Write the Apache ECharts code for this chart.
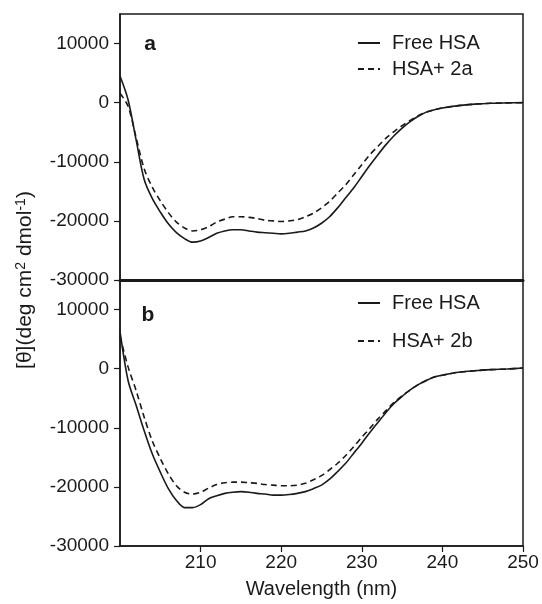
<!DOCTYPE html>
<html>
<head>
<meta charset="utf-8">
<script src="https://cdn.jsdelivr.net/npm/echarts@6/dist/echarts.min.js"></script>
<style>
  html, body { margin: 0; padding: 0; background: #fff; }
  #cd-chart { width: 542px; height: 604px; }
</style>
</head>
<body>
<div id="cd-chart"></div>
<script>
// wavelength (nm)
var wavelength = [200, 201, 202, 203, 204, 205, 206, 207, 208, 209,
    210, 211, 212, 213, 214, 215, 216, 217, 218, 219,
    220, 221, 222, 223, 224, 225, 226, 227, 228, 229,
    230, 231, 232, 233, 234, 235, 236, 237, 238, 239,
    240, 242, 244, 246, 248, 250];

// panel a
var freeA = [4500, 500, -6300, -13000, -16200, -18500, -20500, -22000, -23000, -23600,
    -23400, -22800, -22100, -21700, -21500, -21500, -21700, -21900, -22000, -22100,
    -22200, -22100, -21900, -21700, -21200, -20400, -19300, -17800, -16100, -14400,
    -12500, -10600, -8800, -7100, -5600, -4300, -3200, -2300, -1600, -1200,
    -900, -500, -250, -100, -40, 0];
var hsa2a = [1600, -600, -5900, -11200, -14300, -16600, -18600, -20200, -21200, -21700,
    -21500, -21000, -20200, -19700, -19300, -19300, -19400, -19600, -19900, -20000,
    -20100, -20000, -19800, -19300, -18700, -17800, -16700, -15300, -13900, -12200,
    -10500, -8800, -7400, -6000, -4900, -3900, -3000, -2200, -1600, -1200,
    -900, -500, -250, -100, -40, 0];

// panel b
var freeB = [6300, -2000, -6200, -10500, -14400, -17500, -20300, -22300, -23500, -23500,
    -23000, -22000, -21500, -21100, -20900, -20800, -20900, -21100, -21200, -21400,
    -21400, -21300, -21100, -20800, -20300, -19700, -18700, -17400, -16000, -14300,
    -12600, -10800, -9100, -7400, -5900, -4700, -3600, -2700, -2000, -1400,
    -1100, -600, -350, -170, -60, 100];
var hsa2b = [5500, 300, -3700, -8200, -12200, -15200, -17800, -19800, -20900, -21200,
    -20900, -20200, -19600, -19300, -19200, -19200, -19300, -19400, -19600, -19700,
    -19800, -19800, -19700, -19400, -18800, -18100, -17100, -16000, -14700, -13200,
    -11600, -10100, -8500, -7100, -5700, -4600, -3600, -2700, -2000, -1400,
    -1100, -600, -350, -170, -60, 100];

var xTicks = [210, 220, 230, 240, 250];
var yTicks = [-30000, -20000, -10000, 0, 10000];

function pairs(xs, ys) {
    return xs.map(function (x, i) { return [x, ys[i]]; });
}

var FONT = 'Liberation Sans';
var INK = '#1a1a1a';

function yAxisFor(idx) {
    return {
        type: 'value',
        gridIndex: idx,
        min: -30000,
        max: 15000,
        interval: 10000,
        axisLine: { show: true, lineStyle: { color: INK, width: 1.5 } },
        axisTick: { show: true, inside: false, length: 6, customValues: yTicks, lineStyle: { color: INK, width: 1.2 } },
        axisLabel: {
            customValues: yTicks,
            margin: 11,
            color: INK,
            fontSize: 19,
            fontFamily: FONT,
            formatter: function (v) { return String(v); }
        },
        splitLine: { show: false }
    };
}

function lineSeries(name, data, idx, dashed) {
    return {
        name: name,
        type: 'line',
        xAxisIndex: idx,
        yAxisIndex: idx,
        data: data,
        symbol: 'none',
        smooth: 0.3,
        itemStyle: { color: INK },
        lineStyle: { color: INK, width: 1.6, type: dashed ? [6, 4] : 'solid' }
    };
}

function legendFor(top, gap, names) {
    return {
        orient: 'vertical',
        left: 357,
        top: top,
        padding: 0,
        itemGap: gap,
        itemWidth: 22,
        itemHeight: 14,
        selectedMode: false,
        itemStyle: { opacity: 0 },
        data: names,
        textStyle: { color: INK, fontSize: 20, fontFamily: FONT, padding: [0, 0, 0, 7] }
    };
}

var chart = echarts.init(document.getElementById('cd-chart'));
var option = {
    backgroundColor: '#fff',
    animation: false,
    grid: [
        { left: 120, top: 14, width: 403, height: 266, show: true, borderColor: INK, borderWidth: 1.5 },
        { left: 120, top: 280, width: 403, height: 266, show: true, borderColor: INK, borderWidth: 1.5 }
    ],
    xAxis: [{
        type: 'value',
        gridIndex: 0,
        min: 200,
        max: 250,
        interval: 10,
        axisLine: { show: true, onZero: false, lineStyle: { color: INK, width: 3 } },
        axisTick: { show: false },
        axisLabel: { show: false },
        splitLine: { show: false }
    }, {
        type: 'value',
        gridIndex: 1,
        min: 200,
        max: 250,
        interval: 10,
        name: 'Wavelength (nm)',
        nameLocation: 'middle',
        nameGap: 33,
        nameTextStyle: { color: INK, fontSize: 20, fontFamily: FONT },
        axisLine: { show: true, onZero: false, lineStyle: { color: INK, width: 1.5 } },
        axisTick: { show: true, inside: false, length: 6, customValues: xTicks, lineStyle: { color: INK, width: 1.2 } },
        axisLabel: { customValues: xTicks, margin: 7, color: INK, fontSize: 19, fontFamily: FONT },
        splitLine: { show: false }
    }],
    yAxis: [yAxisFor(0), yAxisFor(1)],
    legend: [
        legendFor(33, 6, ['Free HSA', 'HSA+ 2a']),
        legendFor(293, 18, ['Free HSA', 'HSA+ 2b'])
    ],
    graphic: [{
        type: 'text',
        x: 150,
        y: 44,
        style: { text: 'a', fill: INK, font: 'bold 21px "Liberation Sans"', textAlign: 'center', textVerticalAlign: 'middle' }
    }, {
        type: 'text',
        x: 148,
        y: 315,
        style: { text: 'b', fill: INK, font: 'bold 21px "Liberation Sans"', textAlign: 'center', textVerticalAlign: 'middle' }
    }, {
        type: 'text',
        x: 25,
        y: 280,
        rotation: Math.PI / 2,
        style: {
            text: '[θ](deg cm{sup|2} dmol{sup|-1})',
            fill: INK,
            fontSize: 21,
            fontFamily: FONT,
            textAlign: 'center',
            textVerticalAlign: 'middle',
            rich: {
                sup: { fontSize: 14, fontFamily: FONT, fill: INK, verticalAlign: 'top', lineHeight: 21 }
            }
        }
    }],
    series: [
        lineSeries('Free HSA', pairs(wavelength, freeA), 0, false),
        lineSeries('HSA+ 2a', pairs(wavelength, hsa2a), 0, true),
        lineSeries('Free HSA', pairs(wavelength, freeB), 1, false),
        lineSeries('HSA+ 2b', pairs(wavelength, hsa2b), 1, true)
    ]
};
chart.setOption(option);
</script>
</body>
</html>
